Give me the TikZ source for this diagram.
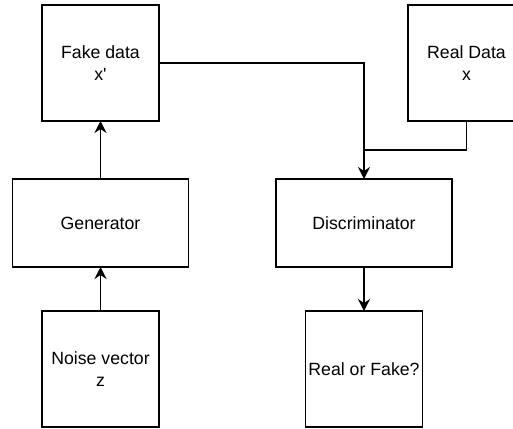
\documentclass[tikz,border=0pt]{standalone}
\usepackage{fontspec}
\setmainfont{Liberation Sans}[Ligatures=TeXOff]
\usetikzlibrary{arrows.meta,positioning}

\begin{document}
\begin{tikzpicture}[
  x=1pt, y=1pt,
  >={Stealth[length=12pt,width=12pt,inset=4pt]},
  line width=1.4pt,
  node distance=44pt,
  block/.style={draw, align=center, minimum width=176pt, minimum height=88pt,
    inner sep=0pt, outer sep=0pt, font=\fontsize{17.7}{22}\selectfont},
  sqbox/.style={block, minimum width=117pt, minimum height=116pt}
]
\useasboundingbox (0,0) rectangle (513,-428);
\node[block] (gen) at (100.5,-223) {Generator};
\node[block, right=87.5pt of gen] (disc) {Discriminator};
\node[sqbox, above=58pt of gen] (fake) {Fake data\\x'};
\node[sqbox, below=of gen] (noise) {Noise vector\\z};
\node[sqbox, below=of disc] (out) {Real or Fake?};
\node[sqbox, right=249pt of fake] (real) {Real Data\\x};
\coordinate (join) at (disc.north |- 0,-150);
\draw[->] (noise) -- (gen);
\draw[->] (gen) -- (fake);
\draw[->] (fake.east) -| (disc.north);
\draw (real.south) |- (join);
\draw[->] (disc) -- (out);
\end{tikzpicture}
\end{document}
